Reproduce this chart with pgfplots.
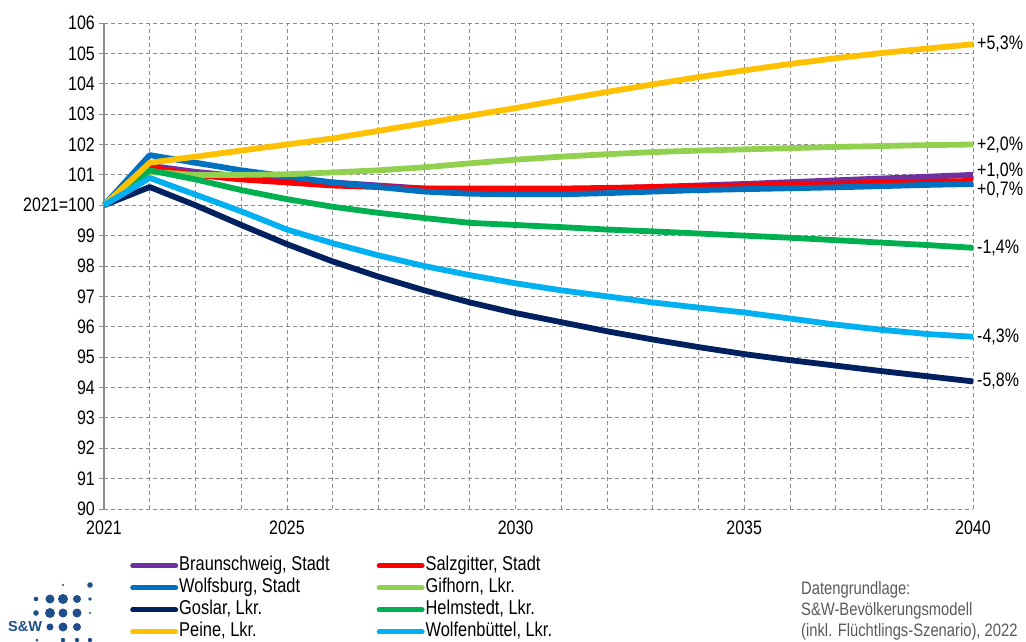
\documentclass[border=0pt]{standalone}
\usepackage{pgfplots}
\pgfplotsset{compat=1.18}
\usepackage{fontspec}
\setmainfont[FakeStretch=0.82]{Liberation Sans}
\newfontfamily\logofont{Liberation Sans}
\definecolor{cBS}{HTML}{7030A0}
\definecolor{cSZ}{HTML}{FF0000}
\definecolor{cWOB}{HTML}{0070C0}
\definecolor{cGF}{HTML}{92D050}
\definecolor{cGS}{HTML}{002060}
\definecolor{cHE}{HTML}{00B050}
\definecolor{cPE}{HTML}{FFC000}
\definecolor{cWF}{HTML}{00B0F0}
\definecolor{cgrid}{HTML}{8C8C8C}
\definecolor{clogo}{HTML}{1E4E8C}
\definecolor{cnote}{HTML}{595959}

\pgfplotstableread{
year BS SZ WOB GF GS HE PE WF
2021 100 100 100 100 100 100 100 100
2022 101.30 101.25 101.65 101.10 100.60 101.15 101.40 100.90
2023 101.10 101.00 101.40 101.00 100.00 100.85 101.60 100.35
2024 100.95 100.85 101.15 101.00 99.35 100.50 101.80 99.80
2025 100.85 100.75 100.95 101.02 98.72 100.20 102.00 99.20
2026 100.75 100.65 100.75 101.08 98.15 99.95 102.20 98.75
2027 100.65 100.60 100.60 101.15 97.65 99.75 102.45 98.35
2028 100.55 100.55 100.45 101.25 97.20 99.58 102.70 98.00
2029 100.50 100.55 100.38 101.38 96.80 99.42 102.95 97.70
2030 100.50 100.55 100.36 101.50 96.45 99.35 103.20 97.43
2031 100.52 100.55 100.36 101.60 96.15 99.28 103.47 97.20
2032 100.55 100.57 100.40 101.68 95.85 99.20 103.73 97.00
2033 100.60 100.60 100.45 101.75 95.58 99.14 103.98 96.80
2034 100.65 100.62 100.50 101.80 95.33 99.07 104.22 96.63
2035 100.70 100.65 100.53 101.84 95.10 99.00 104.44 96.47
2036 100.76 100.68 100.56 101.88 94.90 98.93 104.65 96.27
2037 100.82 100.71 100.59 101.92 94.72 98.85 104.84 96.07
2038 100.88 100.74 100.63 101.95 94.54 98.77 105.01 95.90
2039 100.94 100.77 100.67 101.98 94.37 98.69 105.16 95.76
2040 101.00 100.80 100.70 102.00 94.20 98.60 105.30 95.67
}\datatable

\begin{document}
\begin{tikzpicture}
\useasboundingbox (-104pt,-132pt) rectangle (922pt,509pt);
\begin{axis}[
  scale only axis,
  width=869pt, height=486pt,
  at={(0pt,0pt)}, anchor=south west,
  xmin=2021, xmax=2040, ymin=90, ymax=106,
  clip=false,
  axis y line*=left, axis x line*=bottom,
  x axis line style={draw=none},
  y axis line style={draw=cgrid, line width=1.6pt, -},
  xtick={2021,...,2040},
  xticklabels={2021,,,,2025,,,,,2030,,,,,2035,,,,,2040},
  ytick={90,...,106},
  yticklabels={90,91,92,93,94,95,96,97,98,99,2021=100,101,102,103,104,105,106},
  xtick style={draw=none},
  ytick style={draw=cgrid, line width=1pt},
  tick align=outside, major tick length=5pt,
  ymajorgrids, xmajorgrids,
  major grid style={draw=cgrid, line width=0.8pt, dash pattern=on 4pt off 3pt},
  tick label style={font=\fontsize{19.5}{20}\selectfont, text=black},
  yticklabel style={inner sep=2pt, xshift=-2pt},
  xticklabel style={inner sep=2pt, yshift=-5pt},
  every axis plot/.append style={line width=5.8pt, line join=round},
  legend columns=2,
  legend cell align=left,
  legend style={at={(axis description cs:0.0265,-0.092)}, anchor=north west,
    draw=none, fill=none,
    font=\fontsize{20}{20}\selectfont,
    nodes={inner sep=1pt, text height=14pt, text depth=4pt},
    row sep=2pt,
    /tikz/column 2/.style={column sep=46pt}},
  legend image code/.code={\draw[#1, line width=5pt, line cap=round] (0pt,0pt) -- (43pt,0pt);},
]
\addplot[cBS] table[x=year, y=BS] {\datatable};
\addlegendentry{Braunschweig, Stadt}
\addplot[cSZ] table[x=year, y=SZ] {\datatable};
\addlegendentry{Salzgitter, Stadt}
\addplot[cWOB] table[x=year, y=WOB] {\datatable};
\addlegendentry{Wolfsburg, Stadt}
\addplot[cGF] table[x=year, y=GF] {\datatable};
\addlegendentry{Gifhorn, Lkr.}
\addplot[cGS] table[x=year, y=GS] {\datatable};
\addlegendentry{Goslar, Lkr.}
\addplot[cHE] table[x=year, y=HE] {\datatable};
\addlegendentry{Helmstedt, Lkr.}
\addplot[cPE] table[x=year, y=PE] {\datatable};
\addlegendentry{Peine, Lkr.}
\addplot[cWF] table[x=year, y=WF] {\datatable};
\addlegendentry{Wolfenbüttel, Lkr.}

\begin{scope}[every node/.style={anchor=west, inner sep=0pt, xshift=4pt, font=\fontsize{19.5}{20}\selectfont}]
\node at (axis cs:2040,105.3) {+5,3\%};
\node at (axis cs:2040,102.0) {+2,0\%};
\node at (axis cs:2040,101.14) {+1,0\%};
\node at (axis cs:2040,100.52) {+0,7\%};
\node at (axis cs:2040,98.6) {-1,4\%};
\node at (axis cs:2040,95.67) {-4,3\%};
\node at (axis cs:2040,94.2) {-5,8\%};
\end{scope}
\end{axis}

% source note
\node[anchor=north west, inner sep=0pt, align=left, text=cnote,
  font=\fontsize{18}{21}\selectfont] at (697pt,-72pt)
  {Datengrundlage:\\S\&W-Bevölkerungsmodell\\(inkl. Flüchtlings-Szenario), 2022};

% logo
\begin{scope}[clogo]
\fill (-41pt,-76pt) circle (1.2pt);
\fill (-14pt,-76pt) circle (2.8pt);
\fill (-68pt,-90pt) circle (2.3pt);
\fill (-54pt,-90pt) circle (4.5pt);
\fill (-41pt,-90pt) circle (5pt);
\fill (-27pt,-90pt) circle (4pt);
\fill (-14pt,-90pt) circle (1.8pt);
\fill (-68pt,-104pt) circle (2.8pt);
\fill (-54pt,-104pt) circle (5pt);
\fill (-41pt,-104pt) circle (4.5pt);
\fill (-27pt,-104pt) circle (4.5pt);
\fill (-14pt,-104pt) circle (1.2pt);
\fill (-54pt,-118pt) circle (3.5pt);
\fill (-41pt,-118pt) circle (4.5pt);
\fill (-27pt,-118pt) circle (4pt);
\fill (-67pt,-131pt) circle (1.5pt);
\fill (-41pt,-131pt) circle (2.2pt);
\fill (-27pt,-131pt) circle (2.2pt);
\fill (-14pt,-131pt) circle (2.2pt);
\node[anchor=west, inner sep=0pt, font=\logofont\bfseries\fontsize{14.5}{15}\selectfont] at (-96pt,-118pt) {S\&W};
\end{scope}
\end{tikzpicture}
\end{document}
